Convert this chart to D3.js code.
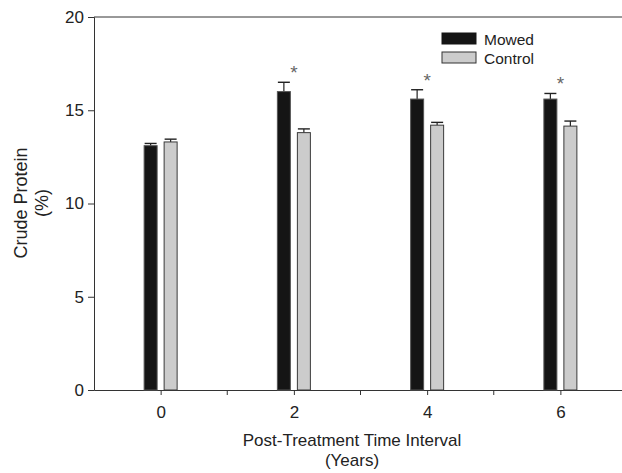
<!DOCTYPE html>
<html>
<head>
<meta charset="utf-8">
<script src="https://cdn.jsdelivr.net/npm/d3@7"></script>
<style>
  html, body { margin: 0; padding: 0; background: #fff; }
  svg { display: block; font-family: "Liberation Sans", Arial, sans-serif; }
</style>
</head>
<body>
<svg id="chart" width="622" height="473"></svg>
<script>
const years = [0, 2, 4, 6];
const mowed = [13.1, 16.0, 15.6, 15.6];
const mowedErr = [0.12, 0.5, 0.5, 0.3];
const control = [13.3, 13.8, 14.2, 14.15];
const controlErr = [0.15, 0.2, 0.15, 0.27];
const significant = [false, true, true, true];
const yTicks = [0, 5, 10, 15, 20];
const xMajorTicks = [0, 2, 4, 6];
const xMinorTicks = [1, 3, 5];
const seriesNames = ["Mowed", "Control"];

const svg = d3.select("#chart");
const x = d3.scaleLinear().domain([-1, 7]).range([94, 627]);
const y = d3.scaleLinear().domain([0, 20]).range([390, 17]);
const axisColor = "#333";
const barW = 13;
const offset = 10;
const FONT = "Liberation Sans, Arial, sans-serif";

// y axis
const yAxis = svg.append("g").attr("transform", `translate(${x(-1)},0)`)
  .call(d3.axisLeft(y).tickValues(yTicks).tickSize(6).tickPadding(4));
yAxis.select(".domain").attr("stroke", axisColor);
yAxis.selectAll(".tick line").attr("stroke", axisColor);
yAxis.selectAll(".tick text").attr("font-size", 17).attr("fill", "#222")
  .attr("font-family", FONT);

// x axis
const xAxis = svg.append("g").attr("transform", `translate(0,${y(0)})`)
  .call(d3.axisBottom(x).tickValues(xMajorTicks).tickSize(5).tickPadding(11).tickSizeOuter(0));
xAxis.select(".domain").attr("stroke", axisColor);
xAxis.selectAll(".tick line").attr("stroke", axisColor);
xAxis.selectAll(".tick text").attr("font-size", 17).attr("fill", "#222")
  .attr("font-family", FONT);
svg.append("g").selectAll("line").data(xMinorTicks).join("line")
  .attr("x1", d => x(d)).attr("x2", d => x(d))
  .attr("y1", y(0)).attr("y2", y(0) + 5).attr("stroke", axisColor);

// top frame line
svg.append("line").attr("x1", x(-1)).attr("x2", x(7))
  .attr("y1", y(20)).attr("y2", y(20)).attr("stroke", axisColor);

// bars
const g = svg.append("g");
const series = [
  { vals: mowed, err: mowedErr, dx: -offset, fill: "#151515", stroke: "#555" },
  { vals: control, err: controlErr, dx: offset, fill: "#cccccc", stroke: "#3a3a3a" }
];
series.forEach(s => {
  g.append("g").selectAll("line").data(years).join("line")
    .attr("x1", d => x(d) + s.dx).attr("x2", d => x(d) + s.dx)
    .attr("y1", (d, i) => y(s.vals[i])).attr("y2", (d, i) => y(s.vals[i] + s.err[i]))
    .attr("stroke", "#222").attr("stroke-width", 1.2);
  g.append("g").selectAll("line").data(years).join("line")
    .attr("x1", d => x(d) + s.dx - 6).attr("x2", d => x(d) + s.dx + 6)
    .attr("y1", (d, i) => y(s.vals[i] + s.err[i])).attr("y2", (d, i) => y(s.vals[i] + s.err[i]))
    .attr("stroke", "#222").attr("stroke-width", 1.4);
  g.append("g").selectAll("rect").data(years).join("rect")
    .attr("x", d => x(d) + s.dx - barW / 2)
    .attr("width", barW)
    .attr("y", (d, i) => y(s.vals[i]))
    .attr("height", (d, i) => y(0) - y(s.vals[i]))
    .attr("fill", s.fill).attr("stroke", s.stroke).attr("stroke-width", 1);
});

// asterisks
svg.append("g").selectAll("text").data(years.filter((d, i) => significant[i])).join("text")
  .attr("x", d => x(d))
  .attr("y", d => { const i = years.indexOf(d); return y(mowed[i] + mowedErr[i]) - 3; })
  .attr("text-anchor", "middle").attr("font-size", 19).attr("fill", "#666")
  .attr("font-family", FONT)
  .text("*");

// legend
const leg = svg.append("g");
const legColors = [{ fill: "#151515", stroke: "#151515" }, { fill: "#cccccc", stroke: "#333" }];
seriesNames.forEach((n, i) => {
  const ly = 33 + i * 19;
  leg.append("rect").attr("x", 442).attr("y", ly).attr("width", 34).attr("height", 11)
    .attr("fill", legColors[i].fill).attr("stroke", legColors[i].stroke).attr("stroke-width", 1);
  leg.append("text").attr("x", 484).attr("y", ly + 11.5).attr("font-size", 15.5)
    .attr("fill", "#222").attr("font-family", FONT).text(n);
});

// axis titles
svg.append("text").attr("transform", "translate(27,203) rotate(-90)")
  .attr("text-anchor", "middle").attr("font-size", 18).attr("fill", "#222").text("Crude Protein");
svg.append("text").attr("transform", "translate(48,203) rotate(-90)")
  .attr("text-anchor", "middle").attr("font-size", 18).attr("fill", "#222").text("(%)");
svg.append("text").attr("x", 352).attr("y", 446)
  .attr("text-anchor", "middle").attr("font-size", 17).attr("fill", "#222").text("Post-Treatment Time Interval");
svg.append("text").attr("x", 352).attr("y", 466)
  .attr("text-anchor", "middle").attr("font-size", 17).attr("fill", "#222").text("(Years)");
</script>
</body>
</html>
